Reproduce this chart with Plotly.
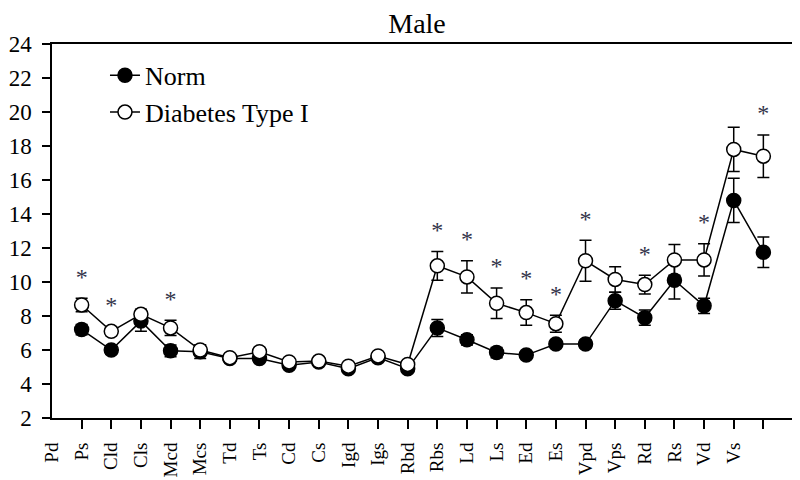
import plotly.graph_objects as go

categories = ["Pd", "Ps", "Cld", "Cls", "Mcd", "Mcs", "Td", "Ts", "Cd", "Cs", "Igd", "Igs",
              "Rbd", "Rbs", "Ld", "Ls", "Ed", "Es", "Vpd", "Vps", "Rd", "Rs", "Vd", "Vs"]

norm_mean = [7.2, 6.0, 7.7, 5.95, 5.9, 5.5, 5.5, 5.1, 5.3, 4.9, 5.55, 4.9,
             7.3, 6.6, 5.85, 5.7, 6.35, 6.35, 8.9, 7.9, 10.1, 8.6, 14.8, 11.75]
norm_err = [0.3, 0.25, 0.6, 0.35, 0.4, 0.2, 0.2, 0.2, 0.15, 0.2, 0.2, 0.2,
            0.5, 0.3, 0.3, 0.2, 0.25, 0.25, 0.5, 0.45, 1.1, 0.45, 1.3, 0.9]

diab_mean = [8.65, 7.1, 8.1, 7.3, 6.0, 5.55, 5.9, 5.3, 5.35, 5.05, 5.65, 5.15,
             10.95, 10.3, 8.75, 8.2, 7.55, 11.25, 10.15, 9.85, 11.3, 11.3, 17.8, 17.4]
diab_err = [0.4, 0.25, 0.3, 0.45, 0.3, 0.2, 0.25, 0.2, 0.2, 0.2, 0.2, 0.2,
            0.85, 0.95, 0.9, 0.75, 0.5, 1.2, 0.75, 0.55, 0.9, 0.95, 1.3, 1.25]

significant = [True, True, False, True, False, False, False, False, False, False, False, False,
               True, True, True, True, True, True, False, True, False, True, False, True]

n = len(categories)
x_data = list(range(1, n + 1))
x_labels = list(range(0, n))

FONT = "Liberation Serif"
STAR_GAP = 0.45  # vertical gap between error bar top and the asterisk (data units)

fig = go.Figure()

fig.add_trace(go.Scatter(
    x=x_data, y=norm_mean, name="Norm", mode="lines+markers",
    line=dict(color="black", width=1.5),
    marker=dict(symbol="circle", size=14, color="black", line=dict(color="black", width=1.5)),
    error_y=dict(type="data", array=norm_err, color="black", thickness=1.5, width=6),
))
fig.add_trace(go.Scatter(
    x=x_data, y=diab_mean, name="Diabetes Type I", mode="lines+markers",
    line=dict(color="black", width=1.5),
    marker=dict(symbol="circle", size=14, color="white", line=dict(color="black", width=1.5)),
    error_y=dict(type="data", array=diab_err, color="black", thickness=1.5, width=6),
))

star_x = [x for x, s in zip(x_data, significant) if s]
star_y = [m + e + STAR_GAP for m, e, s in zip(diab_mean, diab_err, significant) if s]
fig.add_trace(go.Scatter(
    x=star_x, y=star_y, mode="text", text=["*"] * len(star_x),
    textposition="top center", showlegend=False, hoverinfo="skip",
    textfont=dict(family=FONT, size=24, color="#33334a"),
))
# dummy trace on xaxis2 so the label axis is rendered
fig.add_trace(go.Scatter(x=x_labels, y=[None] * n, xaxis="x2", showlegend=False,
                         hoverinfo="skip", mode="markers"))

# the page body has an 8px default margin, so the figure is 792x472
fig.update_layout(
    width=792, height=472,
    margin=dict(l=44, r=7, t=36, b=62),
    paper_bgcolor="white", plot_bgcolor="white",
    font=dict(family=FONT, color="black"),
    title=dict(text="Male", x=0.4926, xref="paper", xanchor="center", y=0.988, yanchor="top",
               font=dict(family=FONT, size=28, color="black")),
    showlegend=True,
    legend=dict(x=0.0715, y=0.979, xanchor="left", yanchor="top",
                font=dict(family=FONT, size=26, color="black"),
                bgcolor="rgba(0,0,0,0)", tracegroupgap=0),
    xaxis=dict(range=[0, 25], tickvals=x_data, showticklabels=False,
               ticks="outside", ticklen=9, tickwidth=1.5, tickcolor="black",
               showline=True, linecolor="black", linewidth=1.5, mirror=True,
               showgrid=False, zeroline=False, automargin=False),
    xaxis2=dict(range=[0, 25], overlaying="x", anchor="y", side="bottom",
                tickmode="array", tickvals=x_labels, ticktext=categories,
                tickangle=-90, ticks="outside", ticklen=16, tickcolor="rgba(0,0,0,0)",
                tickfont=dict(family=FONT, size=19, color="black"),
                showline=False, showgrid=False, zeroline=False, automargin=False),
    yaxis=dict(range=[2, 24], tickvals=list(range(2, 25, 2)),
               ticks="outside", ticklen=8, tickwidth=1.5, tickcolor="black",
               ticklabelstandoff=6, automargin=False,
               tickfont=dict(family=FONT, size=23, color="black"),
               showline=True, linecolor="black", linewidth=1.5, mirror=True,
               showgrid=False, zeroline=False),
)

fig.write_html("out.html")
